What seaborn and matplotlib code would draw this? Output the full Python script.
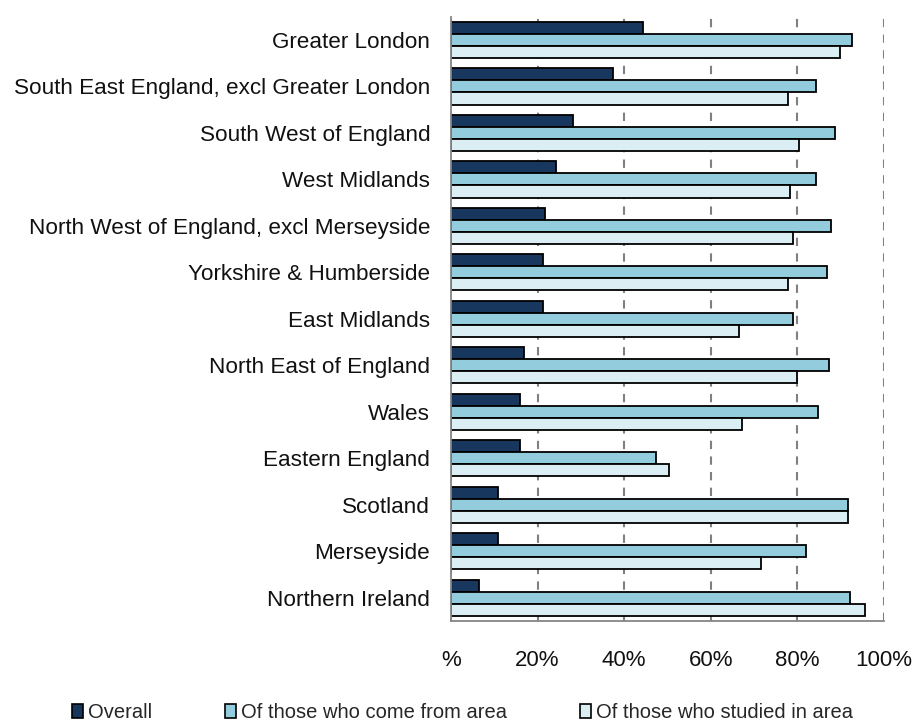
import matplotlib
matplotlib.use("Agg")
import matplotlib.pyplot as plt
import matplotlib.ticker as mticker
from matplotlib.patches import Patch
import seaborn as sns
import pandas as pd
import numpy as np

categories = ["Greater London", "South East England, excl Greater London",
              "South West of England", "West Midlands",
              "North West of England, excl Merseyside", "Yorkshire & Humberside",
              "East Midlands", "North East of England", "Wales", "Eastern England",
              "Scotland", "Merseyside", "Northern Ireland"]
overall = [44.3, 37.3, 28.2, 24.2, 21.6, 21.2, 21.2, 16.9, 15.9, 15.9, 10.8, 10.8, 6.4]
come_from = [92.6, 84.4, 88.7, 84.4, 87.8, 86.9, 79.0, 87.4, 84.7, 47.3, 91.6, 82.1, 92.1]
studied_in = [89.9, 77.8, 80.4, 78.2, 79.0, 77.8, 66.5, 79.9, 67.3, 50.3, 91.6, 71.7, 95.6]
series_names = ["Overall", "Of those who come from area", "Of those who studied in area"]
colors = ["#17375E", "#93CDDD", "#DBEEF3"]
xtick_vals = [0, 20, 40, 60, 80, 100]
xtick_labels = ["%", "20%", "40%", "60%", "80%", "100%"]

rows = []
for i, c in enumerate(categories):
    for s, vals in zip(series_names, [overall, come_from, studied_in]):
        rows.append({"region": c, "series": s, "value": vals[i]})
df = pd.DataFrame(rows)

sns.set_style("white")
plt.rcParams["font.family"] = ["Liberation Sans", "DejaVu Sans"]

fig = plt.figure(figsize=(9.16, 7.24), dpi=100)
ax = fig.add_axes([451/916, 1 - 621/724, (884 - 451)/916, (621 - 16.7)/724])

sns.barplot(data=df, y="region", x="value", hue="series", order=categories,
            hue_order=series_names, palette=colors, saturation=1, orient="h", width=0.78,
            edgecolor="black", linewidth=1.3, legend=False, ax=ax, zorder=3)

ax.set_xlim(0, 100)
ax.set_ylim(len(categories) - 0.5, -0.5)
ax.set_xlabel("")
ax.set_ylabel("")

ax.set_xticks(xtick_vals)
ax.set_xticklabels(xtick_labels, fontsize=16, color="#111111")
ax.tick_params(axis="x", length=5, width=1.2, color="#868686", pad=16, direction="out")

ax.yaxis.set_minor_locator(mticker.FixedLocator(np.arange(-0.5, len(categories), 1.0)))
ax.tick_params(axis="y", which="major", length=0, pad=15, labelsize=16.2, labelcolor="#111111")
ax.tick_params(axis="y", which="minor", length=5, width=1.2, color="#868686", direction="out")

ax.xaxis.grid(True, linestyle=(0, (4, 3.5)), color="#808080", linewidth=1.5)
ax.yaxis.grid(False)
ax.set_axisbelow(True)

for side in ["top", "right"]:
    ax.spines[side].set_visible(False)
for side in ["left", "bottom"]:
    ax.spines[side].set_color("#868686")
    ax.spines[side].set_linewidth(1.3)
    ax.spines[side].set_zorder(4)

handles = [Patch(facecolor=c, edgecolor="black", linewidth=1.2) for c in colors]
fig.legend(handles, series_names, loc="center", bbox_to_anchor=(0.505, 0.016),
           ncol=3, frameon=False, fontsize=14.5, handlelength=0.55, handleheight=0.7,
           handletextpad=0.25, columnspacing=3.6, borderaxespad=0)

fig.savefig("out.png", dpi=100)
